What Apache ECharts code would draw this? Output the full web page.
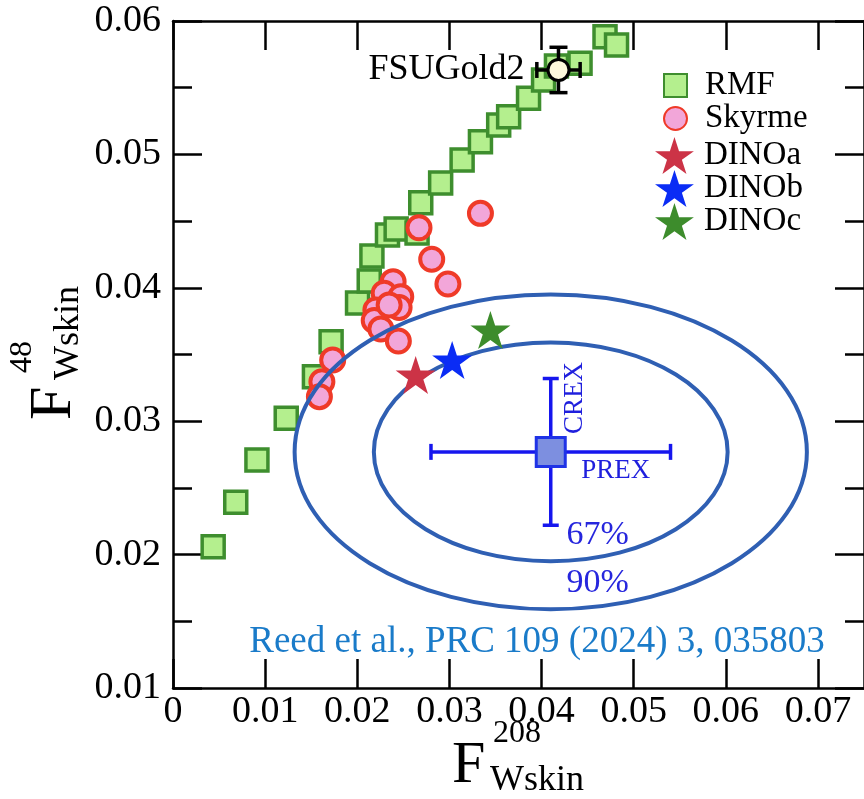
<!DOCTYPE html>
<html><head><meta charset="utf-8">
<script src="https://cdn.jsdelivr.net/npm/echarts@6/dist/echarts.min.js"></script>
<style>html,body{margin:0;padding:0;background:#fff}#c{width:864px;height:799px}</style>
</head><body><div id="c"></div>
<script>
// ---- data ----
const rmfX = [0.00436,0.00681,0.00911,0.01229,0.01535,0.01716,0.02003,0.0213,0.02159,0.02328,0.02422,0.02649,0.02689,0.02905,0.03138,0.03337,0.03535,0.03643,0.03859,0.04022,0.04162,0.04418,0.04689,0.04814];
const rmfY = [0.02059,0.02392,0.02709,0.03022,0.03334,0.03596,0.03886,0.04051,0.04238,0.04396,0.04441,0.04411,0.04638,0.04786,0.04958,0.05095,0.0522,0.05283,0.0542,0.05558,0.05663,0.05683,0.05882,0.0582];
const skyX = [0.0267,0.03337,0.02808,0.02984,0.02389,0.02292,0.02472,0.02454,0.02202,0.02184,0.02256,0.02446,0.01733,0.01616,0.01589,0.02346];
const skyY = [0.0445,0.04558,0.04214,0.04028,0.04046,0.03959,0.03933,0.03852,0.03834,0.03755,0.03691,0.03601,0.03459,0.03296,0.03184,0.03871];
const dinoNames = ['DINOa','DINOb','DINOc'];
const dinoX = [0.02634,0.0303,0.03445];
const dinoY = [0.03346,0.03459,0.03684];
const fsuGold2 = [0.04184,0.05633];
const fsuErr = [0.00235,0.0017];
const prexCrex = [0.0410,0.0277];
const prexErr = 0.0130;
const crexErr = 0.0055;
const ellLabels = ['67%','90%'];
const ellRadii = [[0.0192,0.0082],[0.0278,0.0118]];
const xTicks = [0,0.075,0.01];
const yTicks = [0.01,0.06,0.01];

const SERIF = '"Liberation Serif", "Times New Roman", serif';
const starPath = 'path://M50,0 L61.23,34.55 L97.55,34.55 L68.17,55.9 L79.39,90.45 L50,69.1 L20.61,90.45 L31.83,55.9 L2.45,34.55 L38.77,34.55 Z';
const dinoColors = ['#cc3346','#0a2cf5','#3d8c2c'];
const fmt = v => v === 0 ? '0' : v.toFixed(2);

const chart = echarts.init(document.getElementById('c'), null, {renderer:'canvas'});

const axisCommon = {
  type:'value',
  axisLine:{show:true, onZero:false, lineStyle:{color:'#000', width:2.5}},
  axisTick:{show:true, inside:true, length:29, lineStyle:{color:'#000', width:2.5}},
  splitLine:{show:false}
};

const series = [
  {
    name:'RMF', type:'scatter', z:2,
    data: rmfX.map((x,i)=>[x, rmfY[i]]),
    symbol:'rect', symbolSize:22,
    itemStyle:{color:'#b4ef8e', borderColor:'#3e8e2e', borderWidth:3.5, opacity:1}
  },
  {
    name:'Skyrme', type:'scatter', z:3,
    data: skyX.map((x,i)=>[x, skyY[i]]),
    symbol:'circle', symbolSize:23,
    itemStyle:{color:'#f2a6d9', borderColor:'#ef3a28', borderWidth:4, opacity:1}
  },
  {
    name:'ellipses', type:'custom', z:4, silent:true,
    data: ellRadii.map(r => [prexCrex[0], prexCrex[1], r[0], r[1]]),
    renderItem: (params, api) => {
      const c = api.coord([api.value(0), api.value(1)]);
      const s = api.size([api.value(2), api.value(3)]);
      return {type:'group', children:[
        {type:'ellipse', shape:{cx:c[0], cy:c[1], rx:s[0], ry:s[1]}, style:{fill:null, stroke:'#2f5fb3', lineWidth:4}},
        {type:'text', x:c[0]+47, y:c[1]+s[1]-26, style:{text:ellLabels[params.dataIndex], font:'34px ' + SERIF, fill:'#2626dd', align:'center', verticalAlign:'middle'}}
      ]};
    }
  },
  {
    name:'PREXbars', type:'custom', z:5, silent:true,
    data: [[prexCrex[0], prexCrex[1], prexErr, crexErr]],
    renderItem: (params, api) => {
      const x = api.value(0), y = api.value(1), ex = api.value(2), ey = api.value(3);
      const c = api.coord([x,y]);
      const l = api.coord([x-ex,y]), r = api.coord([x+ex,y]);
      const t = api.coord([x,y+ey]), b = api.coord([x,y-ey]);
      const st = {stroke:'#1616ee', lineWidth:3.5};
      const cap = 8;
      return {type:'group', children:[
        {type:'line', shape:{x1:l[0],y1:l[1],x2:r[0],y2:r[1]}, style:st},
        {type:'line', shape:{x1:t[0],y1:t[1],x2:b[0],y2:b[1]}, style:st},
        {type:'line', shape:{x1:l[0],y1:l[1]-cap,x2:l[0],y2:l[1]+cap}, style:st},
        {type:'line', shape:{x1:r[0],y1:r[1]-cap,x2:r[0],y2:r[1]+cap}, style:st},
        {type:'line', shape:{x1:t[0]-cap,y1:t[1],x2:t[0]+cap,y2:t[1]}, style:st},
        {type:'line', shape:{x1:b[0]-cap,y1:b[1],x2:b[0]+cap,y2:b[1]}, style:st},
        {type:'text', x:c[0]+65, y:c[1]+19, style:{text:'PREX', font:'27px ' + SERIF, fill:'#1f1fdd', align:'center', verticalAlign:'middle'}},
        {type:'text', x:c[0]+24, y:c[1]-54, rotation:Math.PI/2, style:{text:'CREX', font:'27px ' + SERIF, fill:'#1f1fdd', align:'center', verticalAlign:'middle'}}
      ]};
    }
  },
  {
    name:'PREXpt', type:'scatter', z:6, silent:true,
    data:[prexCrex], symbol:'rect', symbolSize:29,
    itemStyle:{color:'#7d8fe0', borderColor:'#1f33e6', borderWidth:3, opacity:1}
  }
];
dinoNames.forEach((n,i)=>{
  series.push({
    name:n, type:'scatter', z:7,
    data:[[dinoX[i], dinoY[i]]],
    symbol:starPath, symbolSize:[40,38],
    itemStyle:{color:dinoColors[i], opacity:1}
  });
});
series.push({
  name:'FSUerr', type:'custom', z:8, silent:true,
  data:[[fsuGold2[0], fsuGold2[1], fsuErr[0], fsuErr[1]]],
  renderItem: (params, api) => {
    const x = api.value(0), y = api.value(1), ex = api.value(2), ey = api.value(3);
    const l = api.coord([x-ex,y]), r = api.coord([x+ex,y]);
    const t = api.coord([x,y+ey]), b = api.coord([x,y-ey]);
    const st = {stroke:'#000', lineWidth:3.5};
    const cap = 8, capv = 9;
    return {type:'group', children:[
      {type:'line', shape:{x1:l[0],y1:l[1],x2:r[0],y2:r[1]}, style:st},
      {type:'line', shape:{x1:t[0],y1:t[1],x2:b[0],y2:b[1]}, style:st},
      {type:'line', shape:{x1:l[0],y1:l[1]-cap,x2:l[0],y2:l[1]+cap}, style:st},
      {type:'line', shape:{x1:r[0],y1:r[1]-cap,x2:r[0],y2:r[1]+cap}, style:st},
      {type:'line', shape:{x1:t[0]-capv,y1:t[1],x2:t[0]+capv,y2:t[1]}, style:st},
      {type:'line', shape:{x1:b[0]-capv,y1:b[1],x2:b[0]+capv,y2:b[1]}, style:st}
    ]};
  }
});
series.push({
  name:'FSUGold2', type:'scatter', z:9, silent:true,
  data:[fsuGold2], symbol:'circle', symbolSize:21,
  itemStyle:{color:'#fdf9dc', borderColor:'#000', borderWidth:3, opacity:1},
  label:{show:true, position:'left', distance:22, formatter:'FSUGold2', color:'#000', fontFamily:SERIF, fontSize:36}
});

const option = {
  backgroundColor:'#fff',
  animation:false,
  grid:{left:173, top:21, width:694, height:667, containLabel:false},
  xAxis:[
    Object.assign({}, axisCommon, {
      position:'bottom', min:xTicks[0], max:xTicks[1], interval:xTicks[2],
      axisLabel:{show:true, margin:5, formatter:fmt, showMaxLabel:false, fontFamily:SERIF, fontSize:38, color:'#000'}
    }),
    Object.assign({}, axisCommon, {
      position:'top', min:xTicks[0], max:xTicks[1], interval:xTicks[2],
      axisLabel:{show:false}
    })
  ],
  yAxis:[
    Object.assign({}, axisCommon, {
      position:'left', min:yTicks[0], max:yTicks[1], interval:yTicks[2],
      minorTick:{show:true, splitNumber:2, length:19, lineStyle:{color:'#000', width:2.5}},
      axisLabel:{show:true, margin:12, formatter:fmt, fontFamily:SERIF, fontSize:38, color:'#000'}
    }),
    Object.assign({}, axisCommon, {
      position:'right', min:yTicks[0], max:yTicks[1], interval:yTicks[2],
      minorTick:{show:true, splitNumber:2, length:19, lineStyle:{color:'#000', width:2.5}},
      axisLabel:{show:false}
    })
  ],
  legend:[
    {
      data:['RMF','Skyrme'], orient:'vertical', left:663, top:69, padding:0, selectedMode:false,
      itemWidth:23, itemHeight:23, itemGap:0,
      textStyle:{fontFamily:SERIF, fontSize:33, color:'#000', padding:[0,0,0,13]}
    },
    {
      data:dinoNames, orient:'vertical', left:655, top:137, padding:0, selectedMode:false,
      itemWidth:41, itemHeight:37, itemGap:-4,
      textStyle:{fontFamily:SERIF, fontSize:33, color:'#000', padding:[0,0,0,4]}
    }
  ],
  graphic:[
    {type:'text', x:537, y:642, z:100, style:{text:'Reed et al., PRC 109 (2024) 3, 035803', font:'37px ' + SERIF, fill:'#1a7bc9', align:'center', verticalAlign:'middle'}},
    {type:'group', x:452, y:766, children:[
      {type:'text', x:0, y:0, style:{text:'F', font:'60px ' + SERIF, fill:'#000', align:'left', verticalAlign:'middle'}},
      {type:'text', x:41, y:-32, style:{text:'208', font:'32px ' + SERIF, fill:'#000', align:'left', verticalAlign:'middle'}},
      {type:'text', x:38, y:15, style:{text:'Wskin', font:'36px ' + SERIF, fill:'#000', align:'left', verticalAlign:'middle'}}
    ]},
    {type:'group', x:54, y:420, rotation:Math.PI/2, children:[
      {type:'text', x:0, y:0, style:{text:'F', font:'60px ' + SERIF, fill:'#000', align:'left', verticalAlign:'middle'}},
      {type:'text', x:47, y:-31, style:{text:'48', font:'32px ' + SERIF, fill:'#000', align:'left', verticalAlign:'middle'}},
      {type:'text', x:40, y:15, style:{text:'Wskin', font:'36px ' + SERIF, fill:'#000', align:'left', verticalAlign:'middle'}}
    ]}
  ],
  series: series
};
chart.setOption(option);
</script>
</body></html>
